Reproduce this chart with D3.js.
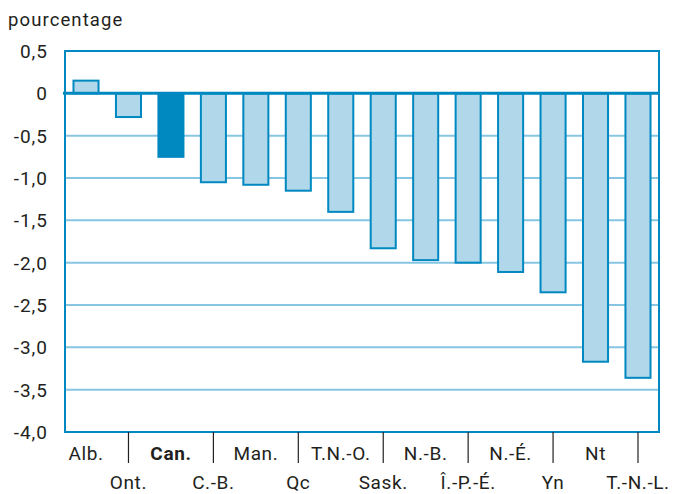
<!DOCTYPE html>
<html>
<head>
<meta charset="utf-8">
<script src="https://cdn.jsdelivr.net/npm/d3@7"></script>
<style>
  body { margin: 0; background: #fff; }
  text { font-family: "Liberation Sans Narrow", "Roboto", sans-serif; fill: #231f20; }
</style>
</head>
<body>
<div id="chart-area"></div>
<script>
// provinces / territories, sorted
var regions = ["Alb.", "Ont.", "Can.", "C.-B.", "Man.", "Qc", "T.N.-O.", "Sask.",
  "N.-B.", "Î.-P.-É.", "N.-É.", "Yn", "Nt", "T.-N.-L."];
var values = [0.15, -0.28, -0.75, -1.05, -1.08, -1.15, -1.40, -1.83,
  -1.97, -2.00, -2.11, -2.35, -3.17, -3.36];
var yTicks = [0.5, 0, -0.5, -1, -1.5, -2, -2.5, -3, -3.5, -4];
var yLabels = ["0,5", "0", "-0,5", "-1,0", "-1,5", "-2,0", "-2,5", "-3,0", "-3,5", "-4,0"];

var W = 685, H = 494;
var mLeft = 65, mRight = 659, mTop = 51, mBottom = 432;

var svg = d3.select("#chart-area")
  .append("svg")
  .attr("width", W)
  .attr("height", H);

var x = d3.scaleBand()
  .domain(regions)
  .range([mLeft, mRight])
  .paddingInner(0.41)
  .paddingOuter(0.2);

var y = d3.scaleLinear()
  .domain([-4, 0.5])
  .range([mBottom, mTop]);

// gridlines
svg.selectAll("line.grid")
  .data(yTicks.filter((d) => d < 0 && d > -4))
  .enter()
  .append("line")
  .attr("class", "grid")
  .attr("x1", mLeft)
  .attr("x2", mRight)
  .attr("y1", (d) => y(d))
  .attr("y2", (d) => y(d))
  .attr("stroke", "#86c6e2")
  .attr("stroke-width", 2);

// bars
svg.selectAll("rect.bar")
  .data(values)
  .enter()
  .append("rect")
  .attr("class", "bar")
  .attr("x", (d, i) => x(regions[i]))
  .attr("y", (d) => y(Math.max(0, d)))
  .attr("width", x.bandwidth())
  .attr("height", (d) => Math.abs(y(d) - y(0)))
  .attr("fill", (d, i) => regions[i] == "Can." ? "#0088c0" : "#b0d8ea")
  .attr("stroke", "#0088c0")
  .attr("stroke-width", 2);

// frame
svg.append("rect")
  .attr("x", mLeft)
  .attr("y", mTop)
  .attr("width", mRight - mLeft)
  .attr("height", mBottom - mTop)
  .attr("fill", "none")
  .attr("stroke", "#0088c0")
  .attr("stroke-width", 2);

// zero line
svg.append("line")
  .attr("x1", mLeft - 2)
  .attr("x2", mRight)
  .attr("y1", y(0))
  .attr("y2", y(0))
  .attr("stroke", "#0088c0")
  .attr("stroke-width", 3);

// y labels
svg.selectAll("text.ylab")
  .data(yTicks)
  .enter()
  .append("text")
  .attr("class", "ylab")
  .attr("x", 48)
  .attr("y", (d) => y(d) + 7)
  .attr("text-anchor", "end")
  .attr("font-size", 19)
  .attr("letter-spacing", 1)
  .text((d, i) => yLabels[i]);

svg.append("text")
  .attr("x", 8)
  .attr("y", 26)
  .attr("font-size", 18.5)
  .attr("letter-spacing", 1.1)
  .text("pourcentage");

// x axis: ticks at centres of every second band, labels staggered
svg.selectAll("line.xtick")
  .data(regions.filter((d, i) => i % 2 == 1))
  .enter()
  .append("line")
  .attr("class", "xtick")
  .attr("x1", (d) => x(d) + x.bandwidth() / 2)
  .attr("x2", (d) => x(d) + x.bandwidth() / 2)
  .attr("y1", mBottom)
  .attr("y2", mBottom + 31)
  .attr("stroke", "#231f20")
  .attr("stroke-width", 1.2);

svg.selectAll("text.xlab")
  .data(regions)
  .enter()
  .append("text")
  .attr("class", "xlab")
  .attr("x", (d) => x(d) + x.bandwidth() / 2)
  .attr("y", (d, i) => i % 2 == 0 ? 460 : 489)
  .attr("text-anchor", "middle")
  .attr("font-size", 19)
  .attr("letter-spacing", 0.6)
  .attr("font-weight", (d) => d == "Can." ? "bold" : "normal")
  .text((d) => d);
</script>
</body>
</html>
